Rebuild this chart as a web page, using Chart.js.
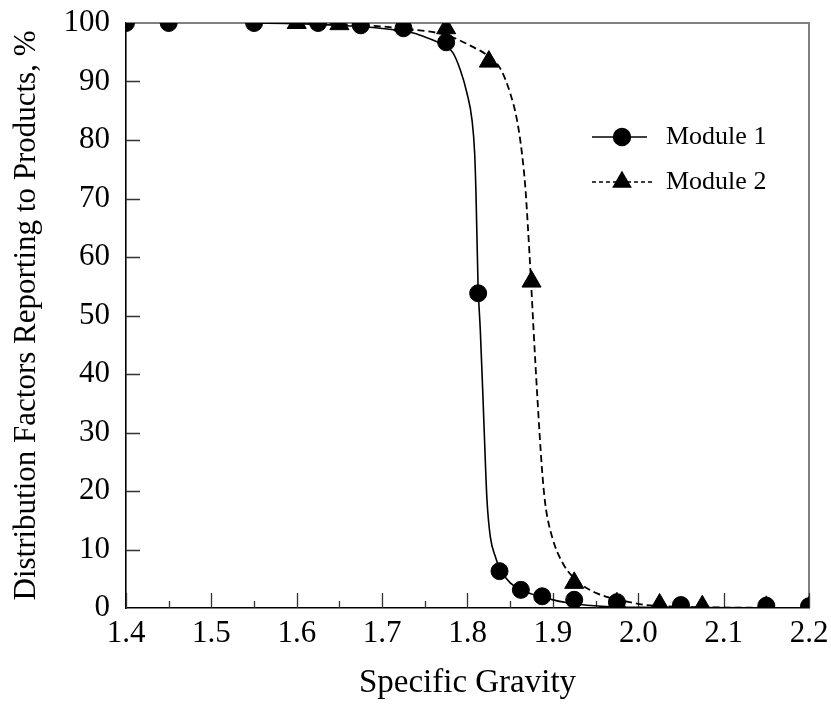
<!DOCTYPE html>
<html>
<head>
<meta charset="utf-8">
<script src="https://cdn.jsdelivr.net/npm/chart.js@4.4.1/dist/chart.umd.min.js"></script>
<style>
  html, body { margin: 0; padding: 0; background: #fff; }
  #wrap { width: 831px; height: 704px; }
</style>
</head>
<body>
<div id="wrap"><canvas id="chart" width="831" height="704"></canvas></div>
<script>
// measured points, module 1 (circles)
const sg1 = [1.4, 1.45, 1.55, 1.625, 1.675, 1.725, 1.775, 1.8125, 1.8375, 1.8625, 1.8875, 1.925, 1.975, 2.05, 2.15, 2.2];
const dist1 = [100, 100, 100, 100, 99.6, 99.1, 96.7, 53.8, 6.3, 3.1, 2.0, 1.4, 1.0, 0.5, 0.4, 0.3];

// measured points, module 2 (triangles)
const sg2 = [1.6, 1.65, 1.725, 1.775, 1.825, 1.875, 1.925, 1.975, 2.025, 2.075, 2.15, 2.2];
const dist2 = [100, 99.8, 99.6, 99.1, 93.4, 55.8, 4.3, 0.8, 0.6, 0.3, 0.2, 0.1];

// fitted curves
const fitX1 = [1.55, 1.6, 1.65, 1.698, 1.7365, 1.7447, 1.772, 1.783, 1.7915, 1.7994, 1.8053, 1.8084, 1.81, 1.8123, 1.815, 1.818, 1.8209, 1.8228, 1.8267, 1.8326, 1.8385, 1.85, 1.8627, 1.8865, 1.9205, 1.967, 2.0, 2.2];
const fitY1 = [100, 99.9, 99.6, 99.1, 98.3, 97.9, 96.2, 94.9, 92.0, 88.0, 83.4, 77.7, 70.5, 55.5, 47.5, 36.5, 25.0, 18.5, 12.2, 8.8, 6.5, 4.3, 3.1, 1.9, 0.8, 0.2, 0.1, 0];

const fitX2 = [1.6, 1.65, 1.7, 1.735, 1.776, 1.805, 1.8228, 1.8385, 1.85, 1.858, 1.8638, 1.8677, 1.8706, 1.8744, 1.8774, 1.882, 1.8873, 1.891, 1.899, 1.9126, 1.932, 1.9518, 1.971, 1.99, 2.01, 2.05, 2.2];
const fitY2 = [100, 99.8, 99.4, 98.9, 97.9, 96.0, 94.5, 92.2, 88.0, 83.4, 77.7, 72.0, 65.5, 55.8, 47.5, 35.6, 23.6, 17.9, 12.2, 7.4, 4.2, 2.5, 1.6, 1.0, 0.5, 0.2, 0];

const seriesNames = ['Module 1', 'Module 2'];
const xTitle = 'Specific Gravity';
const yTitle = 'Distribution Factors Reporting to Products, %';

const serif = '"Liberation Serif", "Times New Roman", serif';

function toPoints(xs, ys) {
  return xs.map((x, i) => ({ x: x, y: ys[i] }));
}

// labels may hang over the edges; keep the plot box where the padding puts it
function noOverhang(scale) {
  scale.paddingTop = 0;
  scale.paddingBottom = 0;
  scale.paddingLeft = 0;
  scale.paddingRight = 0;
}

// inward tick marks, grey top/right frame, and the legend box
const framePlugin = {
  id: 'framePlugin',
  beforeDatasetsDraw(chart) {
    const { ctx, chartArea: a, scales: { x, y } } = chart;
    ctx.save();
    // top and right frame lines
    ctx.strokeStyle = '#808080';
    ctx.lineWidth = 2;
    ctx.beginPath();
    ctx.moveTo(a.left, a.top);
    ctx.lineTo(a.right, a.top);
    ctx.lineTo(a.right, a.bottom);
    ctx.stroke();
    // tick marks pointing into the plot
    ctx.strokeStyle = '#333';
    ctx.lineWidth = 1.3;
    ctx.beginPath();
    for (let i = 0; i <= 16; i++) {
      const v = 1.4 + i * 0.05;
      const px = Math.round(x.getPixelForValue(v)) + 0.5;
      const len = i % 2 === 0 ? 15 : 7;
      ctx.moveTo(px, a.bottom);
      ctx.lineTo(px, a.bottom - len);
    }
    for (let v = 10; v <= 90; v += 10) {
      const py = Math.round(y.getPixelForValue(v)) + 0.5;
      ctx.moveTo(a.left, py);
      ctx.lineTo(a.left + 14, py);
    }
    ctx.stroke();
    ctx.restore();
  },
  afterDraw(chart) {
    const ctx = chart.ctx;
    const rows = [
      { y: 137, dash: [], marker: 'circle' },
      { y: 182, dash: [4, 3], marker: 'triangle' }
    ];
    ctx.save();
    rows.forEach((r, i) => {
      ctx.strokeStyle = '#000';
      ctx.lineWidth = 1.4;
      ctx.setLineDash(r.dash);
      ctx.beginPath();
      ctx.moveTo(592, r.y);
      ctx.lineTo(i === 0 ? 647 : 653, r.y);
      ctx.stroke();
      ctx.setLineDash([]);
      Chart.helpers.drawPoint(ctx, { pointStyle: r.marker, radius: i === 0 ? 8.5 : 10, borderWidth: 1, rotation: 0 }, 622, r.y);
      ctx.fillStyle = '#000';
      ctx.fill();
      ctx.font = '26px ' + serif;
      ctx.textBaseline = 'middle';
      ctx.textAlign = 'left';
      ctx.fillText(seriesNames[i], 666, r.y);
    });
    ctx.restore();
  }
};

new Chart(document.getElementById('chart'), {
  type: 'scatter',
  data: {
    datasets: [
      {
        label: seriesNames[0],
        data: toPoints(sg1, dist1),
        pointStyle: 'circle',
        pointRadius: 8.5,
        backgroundColor: '#000',
        borderColor: '#000',
        order: 0
      },
      {
        label: seriesNames[1],
        data: toPoints(sg2, dist2),
        pointStyle: 'triangle',
        pointRadius: 11,
        backgroundColor: '#000',
        borderColor: '#000',
        order: 0
      },
      {
        label: seriesNames[0] + ' fit',
        data: toPoints(fitX1, fitY1),
        showLine: true,
        pointRadius: 0,
        borderColor: '#000',
        borderWidth: 1.6,
        cubicInterpolationMode: 'monotone',
        order: 1
      },
      {
        label: seriesNames[1] + ' fit',
        data: toPoints(fitX2, fitY2),
        showLine: true,
        pointRadius: 0,
        borderColor: '#000',
        borderWidth: 1.8,
        borderDash: [7, 4],
        cubicInterpolationMode: 'monotone',
        order: 1
      }
    ]
  },
  options: {
    responsive: false,
    animation: false,
    devicePixelRatio: 1,
    layout: { padding: { left: 0, top: 23, right: 22, bottom: 0 } },
    plugins: {
      legend: { display: false },
      tooltip: { enabled: false }
    },
    scales: {
      x: {
        type: 'linear',
        min: 1.4,
        max: 2.2,
        grid: { display: false, drawTicks: false },
        border: { display: true, color: '#000', width: 1.6 },
        ticks: {
          stepSize: 0.1,
          padding: 7,
          color: '#000',
          font: { family: serif, size: 31 },
          maxRotation: 0,
          callback: v => Number(v).toFixed(1)
        },
        title: {
          display: true,
          text: xTitle,
          color: '#000',
          font: { family: serif, size: 33 },
          padding: { top: 0, bottom: 1 }
        },
        afterFit(scale) {
          scale.height = 96;
          noOverhang(scale);
        }
      },
      y: {
        type: 'linear',
        min: 0,
        max: 100,
        grid: { display: false, drawTicks: false },
        border: { display: true, color: '#000', width: 1.6 },
        ticks: {
          stepSize: 10,
          padding: 16,
          color: '#000',
          font: { family: serif, size: 31 }
        },
        title: {
          display: true,
          text: yTitle,
          color: '#000',
          font: { family: serif, size: 31 },
          padding: { top: 8, bottom: 0 }
        },
        afterFit(scale) {
          scale.width = 126;
          noOverhang(scale);
        }
      }
    }
  },
  plugins: [framePlugin]
});
</script>
</body>
</html>
